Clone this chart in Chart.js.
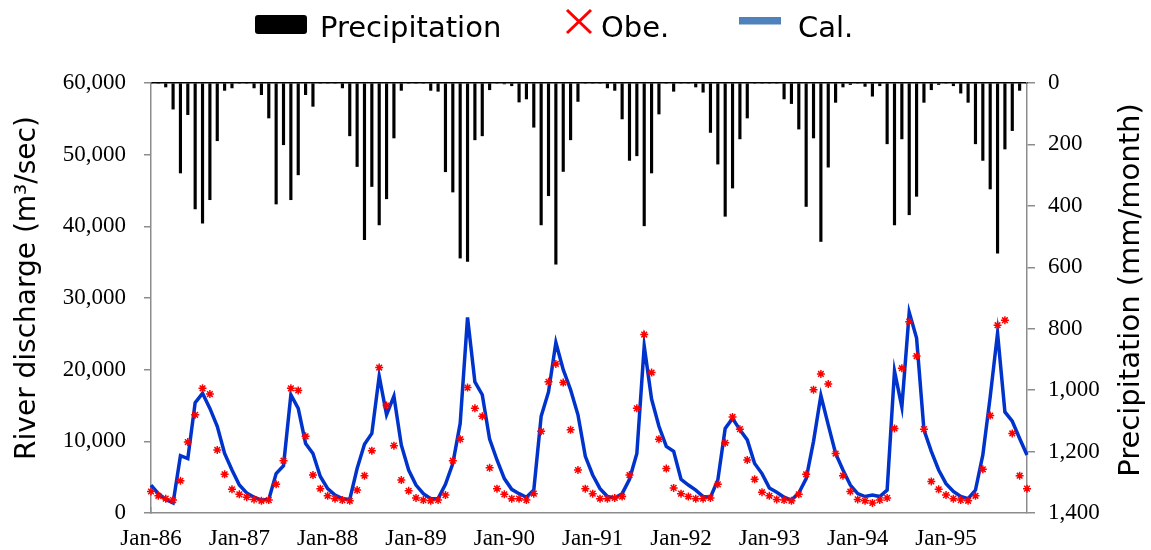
<!DOCTYPE html>
<html>
<head>
<meta charset="utf-8">
<title>River discharge and precipitation</title>
<script src="https://cdn.jsdelivr.net/npm/chart.js@4.4.0/dist/chart.umd.min.js"></script>
<style>
  html, body { margin: 0; padding: 0; background: #fff; }
  #wrap { width: 1151px; height: 550px; }
</style>
</head>
<body>
<div id="wrap"><canvas id="canvasFlow"></canvas></div>
<script>
var years = ['86', '87', '88', '89', '90', '91', '92', '93', '94', '95'];
var monthNames = ['Jan', 'Feb', 'Mar', 'Apr', 'May', 'Jun', 'Jul', 'Aug', 'Sep', 'Oct', 'Nov', 'Dec'];

// monthly precipitation (mm/month), Jan-86 .. Dec-95
var precipitation = [
  0, 0, 13, 85, 293, 103, 410, 456, 380, 188, 24, 16,
  0, 0, 16, 38, 114, 394, 201, 380, 299, 38, 76, 0,
  0, 0, 16, 172, 272, 510, 337, 462, 377, 179, 24, 0,
  0, 0, 24, 27, 289, 355, 570, 581, 185, 172, 22, 0,
  3, 9, 62, 52, 144, 462, 367, 590, 288, 185, 60, 0,
  0, 0, 16, 24, 117, 252, 237, 465, 293, 101, 0, 27,
  0, 0, 13, 30, 161, 264, 434, 342, 182, 114, 0, 0,
  0, 0, 52, 67, 150, 402, 179, 516, 274, 63, 13, 5,
  0, 11, 43, 9, 198, 462, 182, 429, 369, 63, 22, 5,
  0, 9, 33, 63, 198, 252, 345, 554, 215, 155, 24, 0
];

// observed river discharge (m3/sec)
var observed = [
  3000, 2400, 2000, 1800, 4500, 9900, 13700, 17400, 16600, 8800, 5400, 3300,
  2600, 2200, 1900, 1700, 1800, 4000, 7300, 17400, 17100, 10700, 5300, 3400,
  2400, 2000, 1800, 1700, 3200, 5200, 8700, 20300, 15000, 9400, 4600, 3100,
  2100, 1800, 1700, 1800, 2500, 7300, 10300, 17500, 14600, 13500, 6300, 3400,
  2600, 2000, 2000, 1800, 2700, 11400, 18300, 20800, 18200, 11600, 6000, 3400,
  2700, 2000, 2000, 2100, 2300, 5300, 14600, 24900, 19600, 10300, 6200, 3500,
  2700, 2300, 2000, 2000, 2100, 4000, 9800, 13400, 11700, 7400, 4700, 2900,
  2400, 1900, 1800, 1700, 2600, 5400, 17200, 19400, 18000, 8300, 5200, 3000,
  1900, 1700, 1400, 1800, 2100, 11800, 20200, 26700, 21900, 11700, 4400, 3300,
  2500, 2000, 1800, 1700, 2400, 6100, 13600, 26200, 26900, 11100, 5200, 3400
];

// calculated river discharge (m3/sec)
var calculated = [
  3900, 2700, 1900, 1400, 8000, 7600, 15400, 16700, 14600, 12100, 8300, 6000,
  3900, 2800, 2200, 1800, 1900, 5500, 6600, 16500, 14600, 9700, 8300, 5100,
  3400, 2500, 2000, 1900, 6200, 9600, 11100, 19100, 13700, 16300, 9500, 6000,
  3900, 2700, 2000, 2000, 4000, 6900, 12500, 27300, 18300, 16500, 10300, 7400,
  4800, 3300, 2700, 2200, 3200, 13500, 16900, 23800, 20000, 17200, 13700, 7900,
  5300, 3400, 2300, 2100, 2700, 4700, 8300, 23300, 15900, 12100, 9300, 8600,
  4700, 3900, 3200, 2300, 2200, 4600, 11800, 13200, 11600, 10200, 6900, 5500,
  3500, 2900, 2200, 1800, 2800, 4800, 10000, 16400, 12300, 8300, 6000, 3900,
  2700, 2300, 2500, 2300, 3200, 19800, 14800, 28000, 24400, 11600, 8600, 6000,
  4100, 3000, 2300, 2000, 3200, 8100, 16200, 25100, 14100, 12800, 10400, 8100
];

var months = [];
for (var y = 0; y < years.length; y++) {
  for (var m = 0; m < monthNames.length; m++) {
    months.push(monthNames[m] + '-' + years[y]);
  }
}

var axisGray = '#8c8c8c';
var tickFont = { family: 'Liberation Serif', size: 23 };
var titleFont = 'DejaVu Sans';

function isJan(i) {
  return months[i] && months[i].indexOf('Jan') === 0;
}

// legend and axis titles drawn on the canvas
var decorations = {
  id: 'decorations',
  afterDraw: function(chart) {
    var ctx = chart.ctx;
    ctx.save();

    // Precipitation box
    ctx.fillStyle = '#000';
    ctx.beginPath();
    var bx = 255, by = 15, bw = 52, bh = 19, r = 3;
    ctx.moveTo(bx + r, by);
    ctx.lineTo(bx + bw - r, by);
    ctx.quadraticCurveTo(bx + bw, by, bx + bw, by + r);
    ctx.lineTo(bx + bw, by + bh - r);
    ctx.quadraticCurveTo(bx + bw, by + bh, bx + bw - r, by + bh);
    ctx.lineTo(bx + r, by + bh);
    ctx.quadraticCurveTo(bx, by + bh, bx, by + bh - r);
    ctx.lineTo(bx, by + r);
    ctx.quadraticCurveTo(bx, by, bx + r, by);
    ctx.fill();

    // Obe. cross
    ctx.strokeStyle = '#ff0000';
    ctx.lineWidth = 3;
    ctx.beginPath();
    ctx.moveTo(567, 10); ctx.lineTo(591, 33);
    ctx.moveTo(591, 10); ctx.lineTo(567, 33);
    ctx.stroke();

    // Cal. line
    ctx.fillStyle = '#4f81bd';
    ctx.fillRect(739, 17, 42, 7.5);

    ctx.fillStyle = '#000';
    ctx.font = '29px "' + titleFont + '"';
    ctx.textBaseline = 'alphabetic';
    ctx.textAlign = 'left';
    ctx.fillText('Precipitation', 320, 37);
    ctx.fillText('Obe.', 601, 37);
    ctx.fillText('Cal.', 798, 37);

    // axis titles
    ctx.textAlign = 'center';
    ctx.textBaseline = 'middle';
    ctx.save();
    ctx.translate(28, 288);
    ctx.rotate(-Math.PI / 2);
    ctx.font = '28px "' + titleFont + '"';
    ctx.fillText('River discharge (m\u00b3/sec)', 0, 0);
    ctx.restore();

    ctx.save();
    ctx.translate(1131, 290);
    ctx.rotate(-Math.PI / 2);
    ctx.font = '29px "' + titleFont + '"';
    ctx.fillText('Precipitation (mm/month)', 0, 0);
    ctx.restore();

    ctx.restore();
  }
};

var ctx = document.getElementById('canvasFlow');

var flowChart = new Chart(ctx, {
  type: 'bar',
  data: {
    labels: months,
    datasets: [
      {
        type: 'line',
        label: 'Obe.',
        data: observed,
        xAxisID: 'x',
        yAxisID: 'y',
        showLine: false,
        pointStyle: 'star',
        pointRadius: 4,
        pointBorderWidth: 1.5,
        borderColor: '#ff0000',
        backgroundColor: '#ff0000',
        order: 0
      },
      {
        type: 'line',
        label: 'Cal.',
        data: calculated,
        xAxisID: 'x',
        yAxisID: 'y',
        borderColor: '#0033cc',
        borderWidth: 3.5,
        pointRadius: 0,
        tension: 0,
        order: 1
      },
      {
        type: 'bar',
        label: 'Precipitation',
        data: precipitation,
        xAxisID: 'x',
        yAxisID: 'y2',
        backgroundColor: '#000',
        barThickness: 2.5,
        order: 2
      }
    ]
  },
  options: {
    responsive: true,
    maintainAspectRatio: false,
    animation: false,
    devicePixelRatio: 1,
    layout: { padding: { top: 83, left: 0, right: 0, bottom: 0 } },
    plugins: {
      legend: { display: false },
      tooltip: { enabled: false }
    },
    scales: {
      x: {
        type: 'category',
        position: 'bottom',
        offset: false,
        grid: {
          display: true,
          drawOnChartArea: false,
          offset: false,
          tickLength: -6,
          lineWidth: 1.5,
          color: function(c) { return isJan(c.index) ? axisGray : 'rgba(0,0,0,0)'; }
        },
        border: { color: axisGray, width: 1.5 },
        ticks: {
          autoSkip: false,
          maxRotation: 0,
          minRotation: 0,
          padding: 18,
          color: '#000',
          font: tickFont,
          callback: function(v, i) { return isJan(i) ? months[i] : null; }
        },
        afterFit: function(s) { s.height = 37; }
      },
      x2: {
        type: 'category',
        position: 'top',
        offset: false,
        grid: { display: false, drawTicks: false },
        ticks: { display: false },
        border: { color: '#000', width: 1.5 },
        afterFit: function(s) { s.height = 0; }
      },
      y: {
        position: 'left',
        min: 0,
        max: 60000,
        grid: { drawOnChartArea: false, tickLength: 7, lineWidth: 1.5, color: axisGray },
        border: { color: axisGray, width: 1.5 },
        ticks: {
          stepSize: 10000,
          padding: 18,
          color: '#000',
          font: tickFont,
          callback: function(v) { return v.toLocaleString('en-US'); }
        },
        afterFit: function(s) { s.width = 151; }
      },
      y2: {
        position: 'right',
        reverse: true,
        min: 0,
        max: 1400,
        grid: { drawOnChartArea: false, tickLength: 8, lineWidth: 1.5, color: axisGray },
        border: { color: axisGray, width: 1.5 },
        ticks: {
          stepSize: 200,
          padding: 13,
          color: '#000',
          font: tickFont,
          callback: function(v) { return v.toLocaleString('en-US'); }
        },
        afterFit: function(s) { s.width = 124; }
      }
    }
  },
  plugins: [decorations]
});
</script>
</body>
</html>
